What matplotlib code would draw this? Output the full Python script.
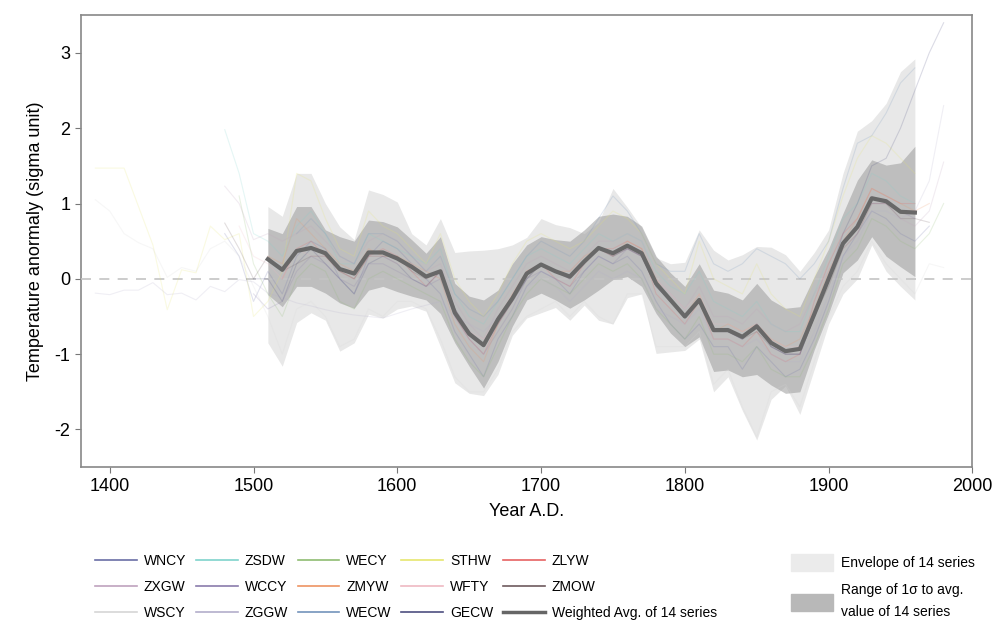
import numpy as np
import matplotlib.pyplot as plt
from matplotlib.patches import Patch
from matplotlib.lines import Line2D

plt.rcParams['font.family'] = ['Liberation Sans', 'DejaVu Sans']
plt.rcParams['axes.unicode_minus'] = False

# decades covered by the composite
years = np.arange(1510, 1961, 10)

avg = [0.26, 0.12, 0.37, 0.41, 0.34, 0.13, 0.07, 0.35, 0.35, 0.27, 0.16, 0.03, 0.10,
       -0.45, -0.73, -0.88, -0.54, -0.26, 0.07, 0.19, 0.10, 0.03, 0.23, 0.41, 0.34,
       0.44, 0.34, -0.06, -0.28, -0.50, -0.28, -0.68, -0.68, -0.77, -0.63, -0.85,
       -0.96, -0.93, -0.47, 0.00, 0.47, 0.69, 1.07, 1.03, 0.89, 0.88]

sig_hi = [0.67, 0.60, 0.96, 0.96, 0.65, 0.56, 0.50, 0.78, 0.76, 0.69, 0.52, 0.34, 0.56,
          -0.06, -0.23, -0.28, -0.15, 0.20, 0.45, 0.56, 0.52, 0.50, 0.65, 0.83, 0.86,
          0.83, 0.70, 0.30, 0.08, -0.10, 0.20, -0.15, -0.19, -0.28, -0.06, -0.28,
          -0.39, -0.37, 0.03, 0.40, 0.87, 1.31, 1.58, 1.51, 1.54, 1.76]
sig_lo = [-0.21, -0.37, -0.10, -0.10, -0.19, -0.32, -0.39, -0.15, -0.10, -0.17, -0.23,
          -0.28, -0.46, -0.85, -1.16, -1.45, -1.10, -0.63, -0.28, -0.19, -0.28, -0.39,
          -0.28, -0.15, -0.01, 0.03, -0.10, -0.46, -0.72, -0.90, -0.77, -1.23, -1.21,
          -1.30, -1.27, -1.41, -1.52, -1.50, -0.94, -0.46, 0.08, 0.25, 0.56, 0.30,
          0.16, 0.03]

env_hi = [0.96, 0.83, 1.40, 1.40, 1.00, 0.69, 0.52, 1.18, 1.12, 1.02, 0.60, 0.45, 0.80,
          0.35, 0.37, 0.38, 0.40, 0.45, 0.55, 0.80, 0.72, 0.68, 0.60, 0.75, 1.20, 0.95,
          0.68, 0.28, 0.20, 0.22, 0.65, 0.38, 0.25, 0.32, 0.43, 0.42, 0.32, 0.10, 0.35,
          0.65, 1.40, 1.96, 2.10, 2.33, 2.75, 2.92]
env_lo = [-0.85, -1.16, -0.58, -0.45, -0.55, -0.96, -0.85, -0.47, -0.52, -0.40, -0.36,
          -0.43, -0.90, -1.38, -1.52, -1.55, -1.27, -0.75, -0.52, -0.45, -0.38, -0.55,
          -0.35, -0.55, -0.60, -0.25, -0.20, -0.99, -0.97, -0.95, -0.80, -1.50, -1.30,
          -1.75, -2.14, -1.60, -1.42, -1.80, -1.20, -0.60, -0.20, 0.00, 0.45, 0.10,
          -0.10, -0.28]

# individual series: first decade + decadal values
wncy_start = 1480
wncy = [0.6, 0.3, -0.3, 0.1, -0.2, 0.3, 0.5, 0.4, 0.0, -0.2, 0.3, 0.5, 0.4, 0.2, 0.0, -0.2,
        -0.7, -1.0, -1.3, -0.8, -0.5, -0.1, 0.1, 0.0, -0.2, 0.1, 0.3, 0.2, 0.3, 0.1, -0.3,
        -0.6, -0.8, -0.6, -0.9, -0.9, -1.2, -0.9, -1.1, -1.3, -1.2, -0.8, -0.3, 0.3, 0.6,
        0.9, 0.8, 0.6, 0.5, 0.7]
zsdw_start = 1480
zsdw = [1.98, 1.4, 0.6, 0.5, 0.3, 0.7, 0.9, 0.6, 0.2, 0.2, 0.6, 0.5, 0.4, 0.3, 0.2, 0.4,
        -0.2, -0.5, -0.6, -0.3, 0.0, 0.3, 0.4, 0.3, 0.2, 0.4, 0.6, 0.5, 0.6, 0.5, 0.1,
        -0.1, -0.2, 0.1, -0.3, -0.4, -0.5, -0.3, -0.6, -0.7, -0.7, -0.2, 0.3, 0.8, 1.0,
        1.4, 1.3, 1.1, 1.0]
wecy_start = 1490
wecy = [1.1, 0.2, -0.2, -0.5, 0.0, 0.2, 0.1, -0.3, -0.4, 0.0, 0.1, 0.0, -0.1, -0.2, -0.3,
        -0.8, -1.1, -1.3, -0.9, -0.5, -0.2, 0.0, -0.1, -0.2, 0.0, 0.2, 0.1, 0.2, 0.0, -0.4,
        -0.6, -0.8, -0.5, -1.0, -1.0, -1.1, -0.9, -1.2, -1.3, -1.3, -0.9, -0.4, 0.2, 0.4,
        0.8, 0.7, 0.5, 0.4, 0.6, 1.0]
sthw_start = 1390
sthw = [1.47, 1.47, 1.47, 0.96, 0.45, -0.41, 0.12, 0.08, 0.7, 0.52, 0.6, -0.5,
        -0.3, 0.1, 1.4, 1.3, 0.8, 0.4, 0.3, 0.9, 0.7, 0.6, 0.4, 0.2, 0.6, 0.0, -0.3, -0.5,
        -0.2, 0.2, 0.5, 0.6, 0.5, 0.4, 0.5, 0.7, 0.9, 0.8, 0.6, 0.2, 0.0, -0.2, 0.5, 0.0,
        -0.1, -0.2, 0.2, -0.2, -0.4, -0.5, 0.0, 0.5, 1.1, 1.6, 1.9, 1.8, 1.6, 1.4]
zlyw_start = 1520
zlyw = [0.0, 0.4, 0.5, 0.3, 0.1, 0.0, 0.3, 0.4, 0.3, 0.1, -0.1, 0.1, -0.5, -0.8, -1.0,
        -0.6, -0.3, 0.1, 0.2, 0.0, -0.1, 0.2, 0.4, 0.4, 0.5, 0.4, -0.2, -0.4, -0.6, -0.3,
        -0.8, -0.8, -0.9, -0.7, -1.0, -1.1, -1.0, -0.3, 0.2, 0.6, 0.8, 1.2, 1.1, 1.0, 1.0]
zxgw_start = 1480
zxgw = [1.23, 1.0, 0.52, 0.6, 0.5, 0.6, 0.7, 0.5, 0.3, 0.2, 0.5, 0.6, 0.5, 0.3, 0.1, 0.2,
        -0.3, -0.6, -0.8, -0.4, -0.1, 0.2, 0.3, 0.2, 0.1, 0.3, 0.5, 0.5, 0.6, 0.5, 0.0,
        -0.2, -0.4, -0.1, -0.5, -0.5, -0.6, -0.4, -0.6, -0.7, -0.6, -0.2, 0.1, 0.5, 0.7,
        1.1, 1.0, 0.8, 0.7, 0.9, 1.55]
wccy_start = 1500
wccy = [-0.2, -0.4, -0.3, 0.1, 0.3, 0.2, 0.0, -0.1, 0.2, 0.2, 0.1, 0.0, -0.1, 0.0, -0.5,
        -0.8, -1.0, -0.7, -0.4, 0.0, 0.1, 0.0, -0.1, 0.1, 0.3, 0.2, 0.4, 0.3, -0.1, -0.3,
        -0.5, -0.3, -0.7, -0.7, -0.8, -0.6, -0.9, -1.0, -1.0, -0.5, 0.0, 0.5, 0.7, 1.0,
        1.0, 0.9, 0.8]
zmyw_start = 1510
zmyw = [0.3, 0.2, 0.8, 0.6, 0.4, 0.2, 0.1, 0.4, 0.3, 0.3, 0.2, 0.1, 0.0, -0.6, -0.9, -1.1,
        -0.6, -0.2, 0.1, 0.2, 0.1, 0.1, 0.3, 0.4, 0.3, 0.5, 0.4, 0.0, -0.3, -0.5, -0.2,
        -0.7, -0.6, -0.7, -0.6, -0.8, -0.9, -0.8, -0.4, 0.1, 0.5, 0.8, 1.2, 1.1, 1.0, 0.9,
        1.0]
wfty_start = 1490
wfty = [0.7, 0.3, 0.2, 0.0, 0.4, 0.3, 0.3, 0.1, 0.1, 0.3, 0.3, 0.2, 0.2, 0.0, 0.1, -0.4,
        -0.7, -0.8, -0.5, -0.2, 0.1, 0.2, 0.1, 0.0, 0.2, 0.4, 0.3, 0.4, 0.3, 0.0, -0.2,
        -0.4, -0.2, -0.6, -0.6, -0.7, -0.6, -0.8, -0.9, -0.9, -0.5, 0.0, 0.4, 0.6, 1.0,
        1.0, 0.9, 0.9]
zmow_start = 1480
zmow = [0.74, 0.4, 0.0, 0.3, 0.1, 0.2, 0.3, 0.3, 0.1, 0.0, 0.3, 0.3, 0.3, 0.1, 0.0, 0.1,
        -0.4, -0.7, -0.9, -0.5, -0.3, 0.0, 0.2, 0.1, 0.0, 0.2, 0.4, 0.3, 0.4, 0.3, -0.1,
        -0.3, -0.5, -0.3, -0.7, -0.7, -0.8, -0.7, -0.9, -1.0, -1.0, -0.5, -0.1, 0.4, 0.6,
        1.0, 1.0, 0.8, 0.8, 0.75]
wscy_start = 1390
wscy = [1.05, 0.9, 0.6, 0.48, 0.4, 0.02, 0.15, 0.1, 0.4, 0.5, 0.3, -0.1,
        -0.5, -1.0, -0.4, -0.3, -0.5, -0.9, -0.8, -0.4, -0.5, -0.3, -0.3, -0.4, -0.8,
        -1.3, -1.5, -1.5, -1.2, -0.7, -0.5, -0.4, -0.3, -0.5, -0.3, -0.5, -0.6, -0.2, -0.2,
        -0.9, -0.9, -0.9, -0.7, -1.4, -1.2, -1.7, -2.1, -1.5, -1.4, -1.7, -1.1, -0.5, -0.1,
        0.1, 0.5, 0.2, 0.0, -0.2, 0.2, 0.15]
zggw_start = 1390
zggw = [-0.19, -0.21, -0.15, -0.15, -0.05, -0.21, -0.19, -0.28, -0.1, -0.17, -0.01, -0.04,
        -0.19, -0.25, -0.32, -0.36, -0.41, -0.45, -0.48, -0.5, -0.52, -0.46, -0.4, -0.35,
        -0.3, -0.5, -0.6, -0.7, -0.5, -0.3, -0.1, 0.0, -0.1, -0.3, -0.1, 0.1, 0.0, 0.1,
        0.0, -0.4, -0.5, -0.6, -0.4, -0.8, -0.8, -0.9, -0.8, -1.0, -1.1, -1.1, -0.7, -0.2,
        0.3, 0.5, 0.9, 0.9, 0.8, 0.9, 1.3, 2.3]
wecw_start = 1530
wecw = [0.6, 0.8, 0.6, 0.3, 0.2, 0.6, 0.6, 0.5, 0.3, 0.1, 0.3, -0.2, -0.4, -0.5, -0.3,
        0.0, 0.3, 0.5, 0.4, 0.3, 0.5, 0.8, 1.1, 0.9, 0.6, 0.2, 0.1, 0.1, 0.6, 0.2, 0.1,
        0.2, 0.4, 0.3, 0.2, 0.0, 0.2, 0.5, 1.2, 1.8, 1.9, 2.2, 2.6, 2.8]
gecw_start = 1500
gecw = [0.0, 0.0, -0.3, 0.2, 0.4, 0.2, 0.0, -0.2, 0.2, 0.3, 0.2, 0.0, -0.1, 0.1, -0.4,
        -0.7, -0.9, -0.6, -0.3, 0.0, 0.2, 0.1, 0.0, 0.2, 0.4, 0.3, 0.4, 0.3, -0.1, -0.3,
        -0.5, -0.3, -0.7, -0.7, -0.8, -0.6, -0.9, -1.0, -1.0, -0.5, 0.0, 0.6, 1.0, 1.5,
        1.6, 2.0, 2.5, 3.0, 3.4]

names = ['WNCY', 'ZSDW', 'WECY', 'STHW', 'ZLYW', 'ZXGW', 'WCCY', 'ZMYW', 'WFTY', 'ZMOW',
         'WSCY', 'ZGGW', 'WECW', 'GECW']
starts = [wncy_start, zsdw_start, wecy_start, sthw_start, zlyw_start, zxgw_start,
          wccy_start, zmyw_start, wfty_start, zmow_start, wscy_start, zggw_start,
          wecw_start, gecw_start]
series = [wncy, zsdw, wecy, sthw, zlyw, zxgw, wccy, zmyw, wfty, zmow, wscy, zggw, wecw, gecw]
colors = ['#6a6ea6', '#7fd3cc', '#8fbc72', '#e6e66e', '#e66262', '#bfa2bd', '#8a7cab',
          '#ee9462', '#efb9c2', '#6e5a5e', '#d6d6d6', '#b3aecb', '#7393bb', '#4e4f80']

fig = plt.figure(figsize=(9.96, 6.33), dpi=100)
ax = fig.add_axes([0.0813, 0.262, 0.895, 0.714])

ax.fill_between(years, env_lo, env_hi, color='#e4e4e4', alpha=0.85, lw=0, zorder=1)
ax.fill_between(years, sig_lo, sig_hi, color='#9c9c9c', alpha=0.55, lw=0, zorder=2)
ax.axhline(0, color='#c4c4c4', lw=1.2, ls=(0, (6, 5)), zorder=3)

for nm, st, vals, c in zip(names, starts, series, colors):
    yrs = st + 10 * np.arange(len(vals))
    ax.plot(yrs, vals, color=c, lw=0.8, alpha=0.2, zorder=4)

ax.plot(years, avg, color='#686868', lw=3, zorder=5, solid_joinstyle='round')

ax.set_xlim(1380, 2000)
ax.set_ylim(-2.5, 3.5)
ax.set_xticks([1400, 1500, 1600, 1700, 1800, 1900, 2000])
ax.set_yticks([-2, -1, 0, 1, 2, 3])
ax.tick_params(direction='out', length=4, color='#777777', labelsize=13)
ax.tick_params(top=False, right=False)
for sp in ax.spines.values():
    sp.set_color('#888888')
    sp.set_linewidth(1.2)
ax.set_xlabel('Year A.D.', fontsize=13, labelpad=6)
ax.set_ylabel('Temperature anormaly (sigma unit)', fontsize=13, labelpad=8)

# series legend, row-wise order as in the figure
handles = [Line2D([], [], color=c, lw=1.2) for c in colors]
handles.append(Line2D([], [], color='#666666', lw=2.5))
labels = names + ['Weighted Avg. of 14 series']
order = [i + 5 * r for i in range(5) for r in range(3)]
fig.legend([handles[i] for i in order], [labels[i] for i in order],
           loc='upper left', bbox_to_anchor=(0.083, 0.145), ncol=5, frameon=False,
           fontsize=10, handlelength=3.0, columnspacing=0.7, labelspacing=0.88,
           handletextpad=0.5)

leg2 = fig.legend([Patch(color='#ebebeb'), Patch(color='#b8b8b8')],
                  ['Envelope of 14 series', 'Range of 1\u03c3 to avg.\nvalue of 14 series'],
                  loc='upper left', bbox_to_anchor=(0.782, 0.145), frameon=False,
                  fontsize=10, handlelength=3.0, handleheight=1.5, labelspacing=0.9,
                  handletextpad=0.6)
leg2.get_texts()[1].set_linespacing(1.75)

fig.savefig('out.png', dpi=100)
